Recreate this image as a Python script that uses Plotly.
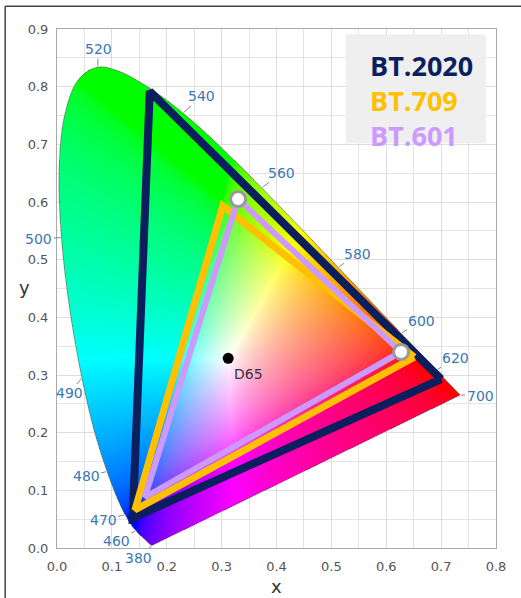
import base64
import struct
import zlib

import numpy as np
import plotly.graph_objects as go

# ---------------- data ----------------
# CIE 1931 spectral locus (wavelength nm, x, y)
locus_wl = [380, 390, 400, 410, 420, 425, 430, 435, 440, 445, 450, 455, 460, 465, 470, 475,
            480, 485, 490, 495, 500, 505, 510, 515, 520, 525, 530, 535, 540, 545, 550,
            555, 560, 565, 570, 575, 580, 585, 590, 595, 600, 605, 610, 615, 620, 625,
            630, 640, 650, 660, 680, 700]
locus_x = [0.1741, 0.1738, 0.1733, 0.1726, 0.1714, 0.1703, 0.1689, 0.1669, 0.1644, 0.1611,
           0.1566, 0.1510, 0.1440, 0.1355, 0.1241, 0.1096, 0.0913, 0.0687, 0.0454, 0.0235,
           0.0082, 0.0039, 0.0139, 0.0389, 0.0743, 0.1142, 0.1547, 0.1929, 0.2296, 0.2658,
           0.3016, 0.3373, 0.3731, 0.4087, 0.4441, 0.4788, 0.5125, 0.5448, 0.5752, 0.6029,
           0.6270, 0.6482, 0.6658, 0.6801, 0.6915, 0.7006, 0.7079, 0.7190, 0.7260, 0.7300,
           0.7334, 0.7347]
locus_y = [0.0050, 0.0049, 0.0048, 0.0048, 0.0051, 0.0058, 0.0069, 0.0086, 0.0109, 0.0138,
           0.0177, 0.0227, 0.0297, 0.0399, 0.0578, 0.0868, 0.1327, 0.2007, 0.2950, 0.4127,
           0.5384, 0.6548, 0.7502, 0.8120, 0.8338, 0.8262, 0.8059, 0.7816, 0.7543, 0.7243,
           0.6923, 0.6589, 0.6245, 0.5896, 0.5547, 0.5202, 0.4866, 0.4544, 0.4242, 0.3965,
           0.3725, 0.3514, 0.3340, 0.3197, 0.3083, 0.2993, 0.2920, 0.2809, 0.2740, 0.2700,
           0.2666, 0.2653]

# wavelength labels and where their text sits
label_wl = [380, 460, 470, 480, 490, 500, 520, 540, 560, 580, 600, 620, 700]
label_x = [0.148, 0.108, 0.084, 0.053, 0.022, -0.033, 0.075, 0.264, 0.410, 0.547, 0.665, 0.727, 0.771]
label_y = [-0.017, 0.013, 0.048, 0.124, 0.268, 0.536, 0.865, 0.783, 0.651, 0.510, 0.394, 0.330, 0.264]

# gamut triangles (R, G, B) as drawn
bt2020_x = [0.700, 0.169, 0.138]
bt2020_y = [0.293, 0.792, 0.052]
bt709_x = [0.651, 0.302, 0.142]
bt709_y = [0.331, 0.593, 0.066]
bt601_x = [0.627, 0.330, 0.160]
bt601_y = [0.340, 0.605, 0.088]

d65_x = [0.312]
d65_y = [0.329]

legend_names = ["BT.2020", "BT.709", "BT.601"]
legend_colors = ["#0b1f5e", "#ffc000", "#cc99ff"]

# ---------------- background colour image ----------------
W, H = 521, 598
ML, MR, MT, MB = 57, 25, 29, 50
PW, PH = W - ML - MR, H - MT - MB
XR, YR = (0.0, 0.8), (0.0, 0.9)
dx = (XR[1] - XR[0]) / PW
dy = (YR[1] - YR[0]) / PH
ncol = int(0.75 / dx) + 2
nrow = int(0.845 / dy) + 2
xs = XR[0] + dx * (np.arange(ncol) + 0.5)
ys = YR[0] + dy * (np.arange(nrow) + 0.5)
GX, GY = np.meshgrid(xs, ys)


def smooth_outline(px, py, n=12):
    """Catmull-Rom rendering of the locus edge (for the fill mask only)."""
    p = np.column_stack([px, py])
    p = np.vstack([p[0], p, p[-1]])
    out = []
    for i in range(1, len(p) - 2):
        p0, p1, p2, p3 = p[i - 1], p[i], p[i + 1], p[i + 2]
        for t in np.linspace(0, 1, n, endpoint=False):
            t2, t3 = t * t, t * t * t
            out.append(0.5 * ((2 * p1) + (-p0 + p2) * t + (2 * p0 - 5 * p1 + 4 * p2 - p3) * t2
                              + (-p0 + 3 * p1 - 3 * p2 + p3) * t3))
    out.append(p[-2])
    out = np.array(out)
    return out[:, 0], out[:, 1]


vx, vy = smooth_outline(locus_x, locus_y)
inside = np.zeros(GX.shape, dtype=bool)
j = len(vx) - 1
for i in range(len(vx)):
    cond = ((vy[i] > GY) != (vy[j] > GY)) & (
        GX < (vx[j] - vx[i]) * (GY - vy[i]) / (vy[j] - vy[i] + 1e-12) + vx[i])
    inside ^= cond
    j = i

yy = np.maximum(GY, 1e-4)
X = GX / yy
Y = np.ones_like(GX)
Z = (1 - GX - GY) / yy
M = np.array([[3.2406, -1.5372, -0.4986],
              [-0.9689, 1.8758, 0.0415],
              [0.0557, -0.2040, 1.0570]])
rgb = np.stack([M[k, 0] * X + M[k, 1] * Y + M[k, 2] * Z for k in range(3)], axis=-1)
rgb = np.clip(rgb, 0, None)
rgb = rgb / np.maximum(rgb.max(axis=-1, keepdims=True), 1e-9)
rgb = np.where(rgb <= 0.0031308, 12.92 * rgb, 1.055 * np.power(rgb, 1 / 2.4) - 0.055)
rgba = np.zeros((nrow, ncol, 4), dtype=np.uint8)
rgba[..., :3] = np.clip(rgb * 255, 0, 255).astype(np.uint8)
rgba[..., 3] = np.where(inside, 255, 0).astype(np.uint8)


def png_uri(a):
    h, w, _ = a.shape
    raw = b"".join(b"\x00" + a[r].tobytes() for r in range(h))

    def chunk(t, d):
        c = struct.pack(">I", len(d)) + t + d
        return c + struct.pack(">I", zlib.crc32(t + d) & 0xFFFFFFFF)

    png = (b"\x89PNG\r\n\x1a\n"
           + chunk(b"IHDR", struct.pack(">IIBBBBB", w, h, 8, 6, 0, 0, 0))
           + chunk(b"IDAT", zlib.compress(raw, 9))
           + chunk(b"IEND", b""))
    return "data:image/png;base64," + base64.b64encode(png).decode()


fig = go.Figure()
fig.add_trace(go.Image(source=png_uri(rgba), x0=xs[0], dx=dx, y0=ys[0], dy=dy,
                       hoverinfo="skip"))

# locus outline (curved part + purple line)
fig.add_trace(go.Scatter(x=locus_x, y=locus_y, mode="lines",
                         line=dict(color="rgba(90,120,90,0.7)", width=1, shape="spline"),
                         hoverinfo="skip", showlegend=False))
fig.add_trace(go.Scatter(x=[locus_x[-1], locus_x[0]], y=[locus_y[-1], locus_y[0]], mode="lines",
                         line=dict(color="rgba(120,60,120,0.6)", width=1),
                         hoverinfo="skip", showlegend=False))


def tri(xv, yv, color, width):
    return go.Scatter(x=xv + [xv[0]], y=yv + [yv[0]], mode="lines",
                      line=dict(color=color, width=width), showlegend=False,
                      hoverinfo="skip")


fig.add_trace(tri(bt2020_x, bt2020_y, legend_colors[0], 8))
fig.add_trace(tri(bt709_x, bt709_y, legend_colors[1], 7))
fig.add_trace(tri(bt601_x, bt601_y, legend_colors[2], 6))

# white circles on BT.601 R and G
fig.add_trace(go.Scatter(x=bt601_x[:2], y=bt601_y[:2], mode="markers",
                         marker=dict(size=15, color="white", line=dict(color="#999999", width=3)),
                         showlegend=False, hoverinfo="skip", cliponaxis=False))

# D65
fig.add_trace(go.Scatter(x=d65_x, y=d65_y, mode="markers",
                         marker=dict(size=11, color="black"), showlegend=False,
                         hoverinfo="skip"))

annotations = []
for wlv, tx, ty in zip(label_wl, label_x, label_y):
    k = locus_wl.index(wlv)
    annotations.append(dict(x=locus_x[k], y=locus_y[k], xref="x", yref="y",
                            ax=tx, ay=ty, axref="x", ayref="y",
                            text=str(wlv), showarrow=True, arrowhead=0, arrowwidth=1,
                            arrowcolor="#888888", standoff=1,
                            font=dict(family="DejaVu Sans", size=14, color="#3b78b4")))

annotations.append(dict(x=d65_x[0] + 0.006, y=d65_y[0] - 0.027, xref="x", yref="y",
                        text="D65", showarrow=False, xanchor="left", yanchor="middle",
                        font=dict(family="DejaVu Sans", size=14, color="#3a3040")))

legend_text = "<br>".join(
    f"<span style='color:{c}'><b>{n}</b></span>" for n, c in zip(legend_names, legend_colors))
annotations.append(dict(x=0.708, y=0.862, xref="paper", yref="paper", text=legend_text,
                        showarrow=False, xanchor="left", yanchor="middle", align="left",
                        font=dict(family="Open Sans", size=27, color=legend_colors[0])))

# axis titles
annotations.append(dict(x=-0.073, y=0.501, xref="paper", yref="paper", text="y",
                        showarrow=False, xanchor="center", yanchor="middle",
                        font=dict(family="DejaVu Sans", size=18, color="#333333")))
annotations.append(dict(x=0.501, y=-0.075, xref="paper", yref="paper", text="x",
                        showarrow=False, xanchor="center", yanchor="middle",
                        font=dict(family="DejaVu Sans", size=18, color="#333333")))

shapes = [
    dict(type="rect", xref="paper", yref="paper", x0=0.658, x1=0.977, y0=0.780, y1=0.990,
         fillcolor="#efefef", line=dict(width=0), layer="above"),
    dict(type="line", xref="paper", yref="paper", x0=-0.118, x1=1.2, y0=1.044, y1=1.044,
         line=dict(color="#444444", width=1.5)),
    dict(type="line", xref="paper", yref="paper", x0=-0.118, x1=-0.118, y0=1.044, y1=-0.3,
         line=dict(color="#444444", width=1.5)),
]

axis_common = dict(showgrid=True, gridcolor="#dddddd", gridwidth=1,
                   showline=True, linecolor="#aaaaaa", linewidth=1, mirror=True,
                   zeroline=False, ticks="", tickformat=".1f", dtick=0.1,
                   automargin=False,
                   tickfont=dict(family="DejaVu Sans", size=13, color="#555555"),
                   minor=dict(dtick=0.05, showgrid=True, gridcolor="#e4e4e4", gridwidth=1))

fig.update_layout(
    width=W, height=H,
    margin=dict(l=ML, r=MR, t=MT, b=MB),
    paper_bgcolor="white", plot_bgcolor="white",
    showlegend=False,
    xaxis=dict(range=list(XR), **axis_common, ticklabelstandoff=6),
    yaxis=dict(range=list(YR), autorange=False, scaleanchor=False, **axis_common,
               ticklabelstandoff=5),
    annotations=annotations,
    shapes=shapes,
)

fig.write_html("out.html")
